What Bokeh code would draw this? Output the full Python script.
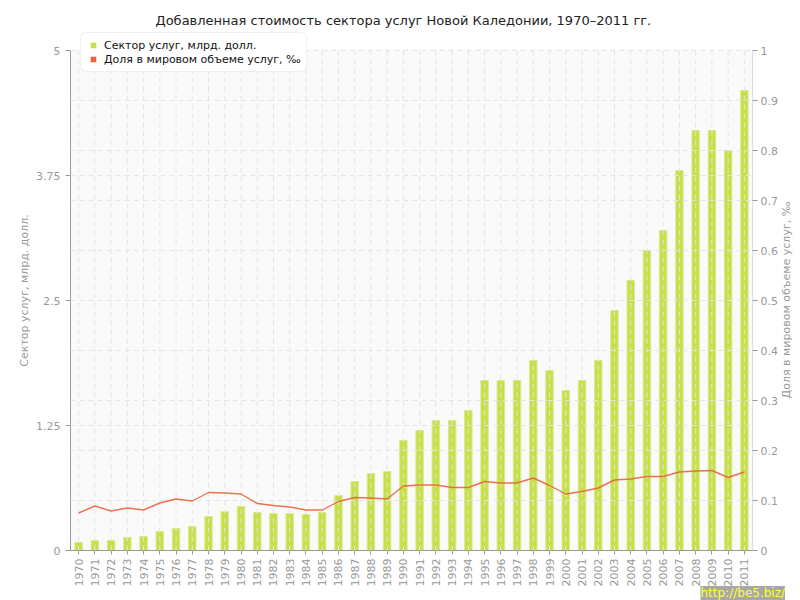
from bokeh.plotting import figure
from bokeh.models import (Range1d, LinearAxis, FixedTicker, Legend, LegendItem,
                          ColumnDataSource, BoxAnnotation, Title, Div)
from bokeh.layouts import row
from bokeh.embed import file_html
from bokeh.resources import INLINE

title_text = "Добавленная стоимость сектора услуг Новой Каледонии, 1970–2011 гг."
left_label = "Сектор услуг, млрд. долл."
right_label = "Доля в мировом объеме услуг, ‰"
series_names = ["Сектор услуг, млрд. долл.", "Доля в мировом объеме услуг, ‰"]

years = ["1970", "1971", "1972", "1973", "1974", "1975", "1976", "1977", "1978", "1979",
         "1980", "1981", "1982", "1983", "1984", "1985", "1986", "1987", "1988", "1989",
         "1990", "1991", "1992", "1993", "1994", "1995", "1996", "1997", "1998", "1999",
         "2000", "2001", "2002", "2003", "2004", "2005", "2006", "2007", "2008", "2009",
         "2010", "2011"]

services = [0.08, 0.10, 0.10, 0.13, 0.14, 0.19, 0.22, 0.24, 0.34, 0.39,
            0.44, 0.38, 0.37, 0.37, 0.36, 0.38, 0.55, 0.69, 0.77, 0.79,
            1.10, 1.20, 1.30, 1.30, 1.40, 1.70, 1.70, 1.70, 1.90, 1.80,
            1.60, 1.70, 1.90, 2.40, 2.70, 3.00, 3.20, 3.80, 4.20, 4.20,
            4.00, 4.60]

share = [0.075, 0.089, 0.079, 0.085, 0.081, 0.095, 0.103, 0.099, 0.116, 0.115,
         0.113, 0.094, 0.090, 0.087, 0.081, 0.081, 0.098, 0.106, 0.105, 0.103,
         0.129, 0.131, 0.131, 0.126, 0.126, 0.138, 0.135, 0.135, 0.145, 0.130,
         0.113, 0.118, 0.125, 0.141, 0.143, 0.148, 0.148, 0.157, 0.159, 0.160,
         0.146, 0.157]

left_ticks = [0, 1.25, 2.5, 3.75, 5]
left_tick_labels = ["0", "1.25", "2.5", "3.75", "5"]
right_ticks = [0, 0.1, 0.2, 0.3, 0.4, 0.5, 0.6, 0.7, 0.8, 0.9, 1.0]
right_tick_labels = ["0", "0.1", "0.2", "0.3", "0.4", "0.5", "0.6", "0.7", "0.8", "0.9", "1"]
hgrid_ticks = [0, 0.5, 1.0, 1.25, 1.5, 2.0, 2.5, 3.0, 3.5, 3.75, 4.0, 4.5, 5.0]

LEFT_MAX = 5.0
RIGHT_MAX = 1.0
HEADROOM = 1.04  # frame extends a little above the axes' top, for the legend

FONT = "DejaVu Sans"
GREY = "#999999"
BAR = "#c6e04a"
BAR_LINE = "#d8eb8c"
LINE = "#e8643c"

src = ColumnDataSource(dict(year=years, services=services, share=share,
                            g0=[0] * len(years), g1=[LEFT_MAX] * len(years)))

p = figure(x_range=years, y_range=Range1d(0, LEFT_MAX * HEADROOM), width=800, height=600,
           output_backend="svg", toolbar_location=None,
           min_border_left=70, min_border_right=48, min_border_top=30, min_border_bottom=50,
           background_fill_color="white", border_fill_color="white",
           outline_line_color=None)
p.extra_y_ranges = {"share": Range1d(0, RIGHT_MAX * HEADROOM)}

# plot-area background only up to the axes' top
p.add_layout(BoxAnnotation(bottom=0, top=LEFT_MAX, fill_color="#fafafa", fill_alpha=1.0,
                           line_color=None, level="underlay"))

bars = p.vbar(x="year", top="services", width=0.46, source=src,
              fill_color=BAR, line_color=BAR_LINE, line_width=1)

# vertical dashed grid lines (drawn over the bars, as in the original)
vg = p.segment(x0="year", y0="g0", x1="year", y1="g1", source=src,
               line_color="#e4e4e4", line_dash="5 4", line_width=1)
vg.level = "annotation"

ln = p.line(x="year", y="share", y_range_name="share", source=src,
            line_color=LINE, line_width=1.4, line_alpha=0.9)
ln.level = "overlay"

p.xgrid.grid_line_color = None
p.ygrid.ticker = FixedTicker(ticks=hgrid_ticks)
p.ygrid.grid_line_color = "#e4e4e4"
p.ygrid.grid_line_dash = "5 4"
p.ygrid.level = "annotation"

# left axis
la = p.yaxis[0]
la.ticker = FixedTicker(ticks=left_ticks)
la.bounds = (0, LEFT_MAX)
la.major_label_overrides = {t: s for t, s in zip(left_ticks, left_tick_labels)}
la.axis_label = left_label
la.axis_label_text_font = FONT
la.axis_label_text_font_size = "11px"
la.axis_label_text_font_style = "normal"
la.axis_label_text_color = GREY
la.axis_label_standoff = 2
la.major_label_text_font = FONT
la.major_label_text_font_size = "11px"
la.major_label_text_color = GREY
la.axis_line_color = GREY
la.major_tick_line_color = GREY
la.major_tick_out = 5
la.major_tick_in = 0
la.minor_tick_line_color = None

# right axis (ticks and tick labels)
ra = LinearAxis(y_range_name="share", ticker=FixedTicker(ticks=right_ticks))
ra.bounds = (0, RIGHT_MAX)
ra.major_label_overrides = {t: s for t, s in zip(right_ticks, right_tick_labels)}
ra.major_label_text_font = FONT
ra.major_label_text_font_size = "11px"
ra.major_label_text_color = GREY
ra.major_label_standoff = 3
ra.axis_line_color = "#dddddd"
ra.major_tick_line_color = GREY
ra.major_tick_out = 5
ra.major_tick_in = 0
ra.minor_tick_line_color = None
p.add_layout(ra, "right")

# x axis
xa = p.xaxis[0]
xa.major_label_orientation = 1.5708
xa.major_label_text_font = FONT
xa.major_label_text_font_size = "11px"
xa.major_label_text_color = GREY
xa.axis_line_color = GREY
xa.major_tick_line_color = GREY
xa.major_tick_out = 4
xa.major_tick_in = 0
xa.major_label_standoff = 4

# legend with square swatches (dummy points placed below the visible range)
dummy = ColumnDataSource(dict(x=[years[0]], y=[-10]))
s1 = p.scatter(x="x", y="y", source=dummy, marker="square", size=6,
               fill_color=BAR, line_color=None)
s2 = p.scatter(x="x", y="y", source=dummy, marker="square", size=6,
               fill_color=LINE, line_color=None)
legend = Legend(items=[LegendItem(label=series_names[0], renderers=[s1]),
                       LegendItem(label=series_names[1], renderers=[s2])],
                location=(10, 478))
legend.label_text_font = FONT
legend.label_text_font_size = "11px"
legend.label_text_color = "#111111"
legend.glyph_width = 14
legend.glyph_height = 14
legend.label_height = 14
legend.spacing = 0
legend.padding = 5
legend.margin = 0
legend.label_standoff = 4
legend.background_fill_color = "white"
legend.background_fill_alpha = 1.0
legend.border_line_color = "#e2e2e2"
try:
    legend.border_radius = 6
except Exception:
    pass
p.add_layout(legend, "center")

# title
p.title.text = title_text
p.title.align = "left"
p.title.offset = 85
p.title.text_font = FONT
p.title.text_font_size = "13px"
p.title.text_font_style = "normal"
p.title.text_color = "#222222"
p.title.standoff = 6

# watermark
wm = Title(text="http://be5.biz/", align="left", offset=630, text_font=FONT,
           text_font_size="12px", text_font_style="normal", text_color="#ffff33",
           background_fill_color="#a8a8a8", standoff=-11)
p.add_layout(wm, "below")

# right axis title, reading upward, laid over the figure's right border
# (the Div starts at x = 770 because of its negative left margin)
rlabel = Div(
    text=('<div style="position:absolute; left:17px; top:300px; '
          'transform:translate(-50%,-50%) rotate(-90deg); white-space:nowrap; '
          "font-family:'DejaVu Sans'; font-size:11px; color:#999999;\">"
          + right_label + "</div>"),
    width=30, height=600, margin=(0, 0, 0, -30))

layout = row(p, rlabel, spacing=0)
open("out.html", "w").write(file_html(layout, INLINE))
